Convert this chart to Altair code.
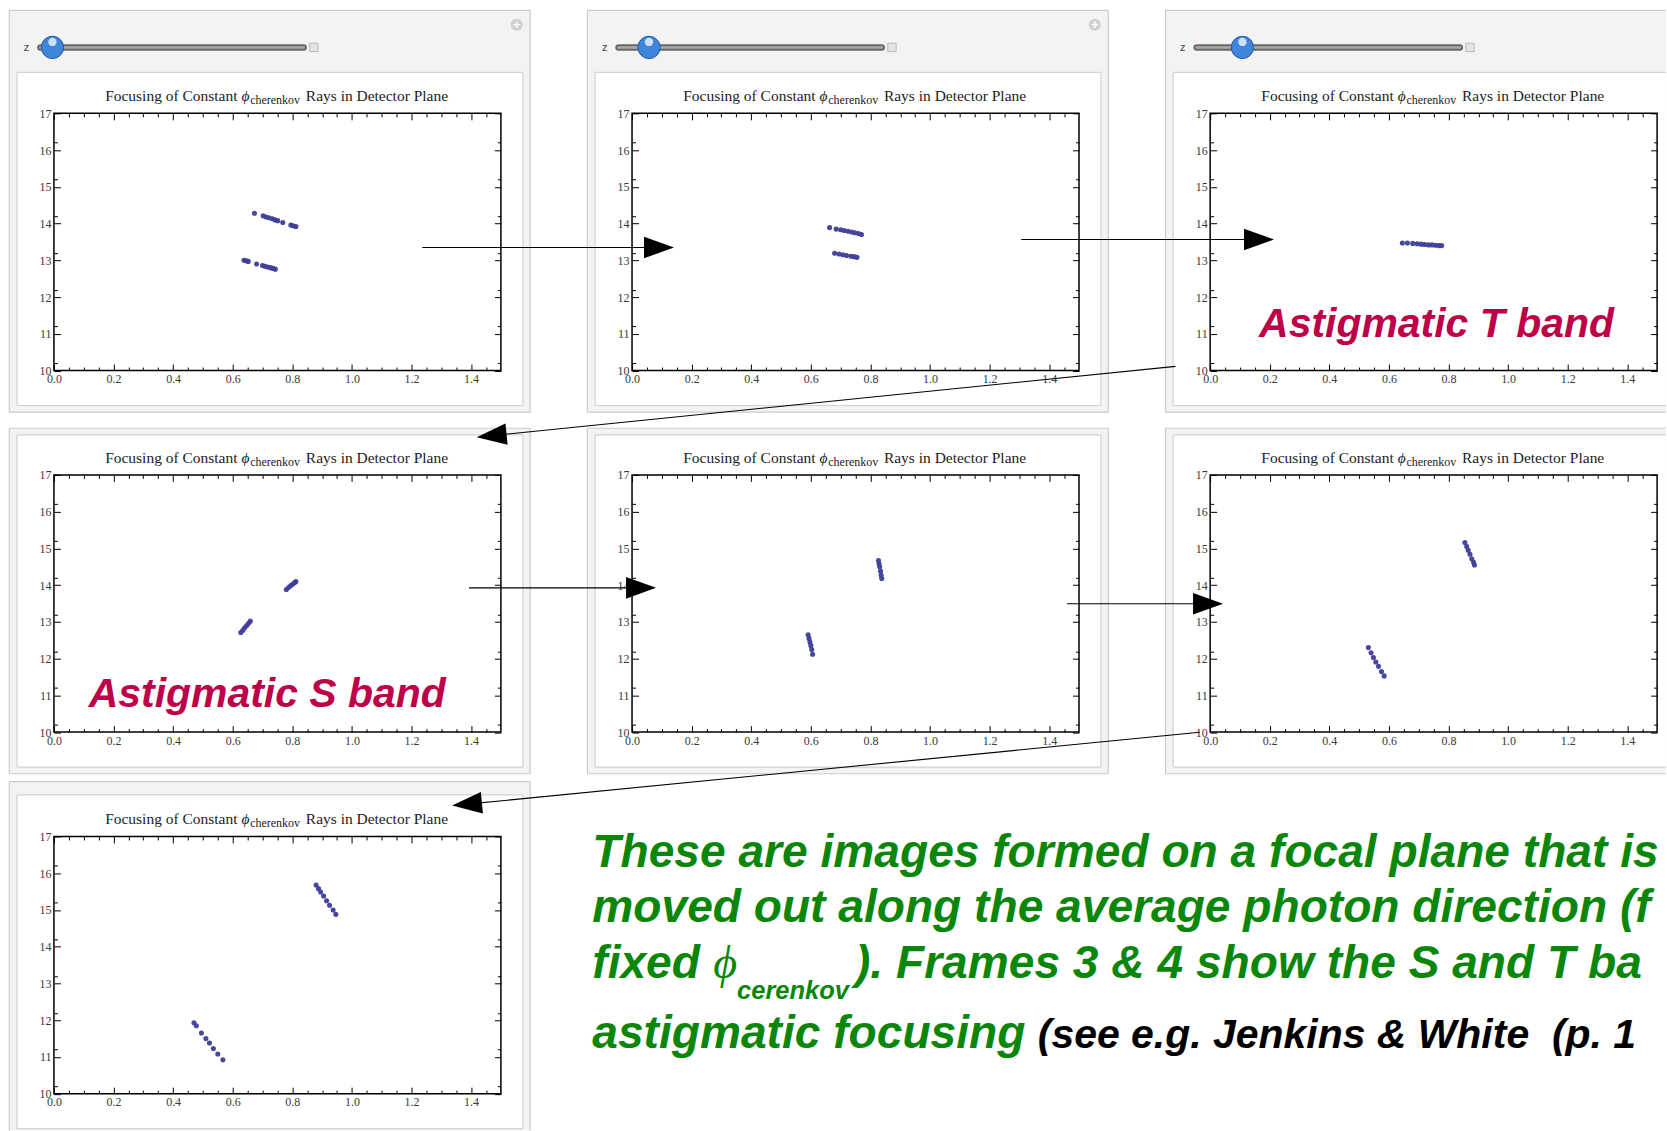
import math
import altair as alt
import pandas as pd

# ---------------- data ----------------
frame1_x = [0.673, 0.702, 0.712, 0.722, 0.733, 0.742, 0.751, 0.768, 0.795, 0.803, 0.812,
            0.638, 0.645, 0.652, 0.680, 0.700, 0.708, 0.717, 0.727, 0.735, 0.743]
frame1_y = [14.28, 14.21, 14.18, 14.16, 14.13, 14.10, 14.08, 14.03, 13.96, 13.94, 13.92,
            13.00, 12.99, 12.97, 12.90, 12.86, 12.84, 12.82, 12.80, 12.78, 12.76]
frame2_x = [0.663, 0.685, 0.700, 0.712, 0.725, 0.737, 0.748, 0.760, 0.770,
            0.680, 0.695, 0.708, 0.720, 0.735, 0.745, 0.755]
frame2_y = [13.89, 13.85, 13.83, 13.81, 13.79, 13.77, 13.75, 13.73, 13.70,
            13.19, 13.17, 13.15, 13.13, 13.11, 13.10, 13.08]
frame3_x = [0.645, 0.662, 0.680, 0.695, 0.708, 0.720, 0.733, 0.745, 0.757, 0.768, 0.777]
frame3_y = [13.47, 13.47, 13.46, 13.45, 13.44, 13.43, 13.42, 13.42, 13.41, 13.40, 13.40]
frame4_x = [0.627, 0.634, 0.640, 0.647, 0.653, 0.659, 0.780, 0.788, 0.795, 0.802, 0.808, 0.812]
frame4_y = [12.71, 12.77, 12.84, 12.90, 12.96, 13.02, 13.88, 13.94, 13.99, 14.03, 14.07, 14.10]
frame5_x = [0.591, 0.594, 0.597, 0.600, 0.603, 0.606, 0.827, 0.829, 0.831, 0.834, 0.836, 0.838]
frame5_y = [12.65, 12.55, 12.45, 12.36, 12.25, 12.12, 14.67, 14.58, 14.50, 14.38, 14.27, 14.18]
frame6_x = [0.855, 0.861, 0.866, 0.872, 0.878, 0.884, 0.887,
            0.531, 0.540, 0.548, 0.556, 0.565, 0.575, 0.584]
frame6_y = [15.16, 15.05, 14.95, 14.84, 14.72, 14.62, 14.55,
            12.30, 12.16, 12.03, 11.91, 11.79, 11.65, 11.53]
frame7_x = [0.880, 0.888, 0.895, 0.905, 0.915, 0.925, 0.937, 0.946,
            0.470, 0.478, 0.495, 0.510, 0.522, 0.535, 0.550, 0.567]
frame7_y = [15.68, 15.58, 15.49, 15.38, 15.25, 15.13, 15.00, 14.88,
            11.93, 11.85, 11.65, 11.50, 11.38, 11.23, 11.08, 10.92]

frames_x = [frame1_x, frame2_x, frame3_x, frame4_x, frame5_x, frame6_x, frame7_x]
frames_y = [frame1_y, frame2_y, frame3_y, frame4_y, frame5_y, frame6_y, frame7_y]

panel_title = ["Focusing of Constant", "\u03d5", "cherenkov", "Rays in Detector Plane"]
x_major_ticks = [0.0, 0.2, 0.4, 0.6, 0.8, 1.0, 1.2, 1.4]
x_minor_ticks = [0.05, 0.1, 0.15, 0.25, 0.3, 0.35, 0.45, 0.5, 0.55, 0.65, 0.7, 0.75,
                 0.85, 0.9, 0.95, 1.05, 1.1, 1.15, 1.25, 1.3, 1.35, 1.45]
y_major_ticks = [10, 11, 12, 13, 14, 15, 16, 17]
y_minor_ticks = [10.2, 10.4, 10.6, 10.8, 11.2, 11.4, 11.6, 11.8, 12.2, 12.4, 12.6, 12.8,
                 13.2, 13.4, 13.6, 13.8, 14.2, 14.4, 14.6, 14.8, 15.2, 15.4, 15.6, 15.8,
                 16.2, 16.4, 16.6, 16.8]
band_text = ["Astigmatic T band", "Astigmatic S band"]
caption_lines = ["These are images formed on a focal plane that is",
                 "moved out along the average photon direction (for"]
caption_fixed = ["fixed", "\u03d5", "cerenkov", "). Frames 3 & 4 show the S and T bands"]
caption_last = ["astigmatic focusing",
                "(see e.g. Jenkins & White\u00a0\u00a0(p. 112))"]

# ---------------- layout (pixels) ----------------
W, H = 447.5, 257.5
SX, SY = 130.8, 104.0
PAGE_W, PAGE_H = 1666.0, 1130.0
L0, T0 = 53.2, 112.5
GRID = [(0, 0), (0, 1), (0, 2), (1, 0), (1, 1), (1, 2), (2, 0)]
OUTER_TOP = {0: -103.1, 1: -46.7, 2: -55.0}
INNER_TOP = {0: -41.0, 1: -40.0, 2: -41.7}
KNOB = [-1.5, 17.0, 32.3]
GREEN = "#0a870a"
CRIMSON = "#bd0048"
SANS = "Liberation Sans"
SERIF = "Liberation Serif"

XS = alt.Scale(domain=[0.0, 1.5], nice=False, zero=False)
YS = alt.Scale(domain=[10.0, 17.0], nice=False, zero=False)


def origin(p):
    r, c = GRID[p]
    return L0 + c * (W + SX), T0 + r * (H + SY)


def rx(px):
    return px / W * 1.5


def ry(py):
    return 17.0 - py / H * 7.0


def X(f="x", axis=None):
    return alt.X(f, type="quantitative", scale=XS, axis=axis)


def Y(f="y", axis=None):
    return alt.Y(f, type="quantitative", scale=YS, axis=axis)


def text_layer(xs, ys, texts, **mk):
    df = pd.DataFrame({"x": xs, "y": ys, "t": texts})
    return alt.Chart(df).mark_text(baseline="alphabetic", **mk).encode(
        x=X(), y=Y(), text="t:N")


def carrier(xo, yo, major, labels):
    size = 6.5 if major else 3.5
    common = dict(tickSize=size, offset=-size, domain=False, grid=False, title=None,
                  tickColor="black", tickWidth=1, zindex=1, labels=labels,
                  labelFont=SERIF, labelFontSize=12, labelColor="#3a3a3a",
                  labelOverlap=False, labelFlush=False)
    xa = alt.Axis(orient=xo, values=x_major_ticks if major else x_minor_ticks,
                  format=".1f", labelPadding=3, **common)
    ya = alt.Axis(orient=yo, values=y_major_ticks if major else y_minor_ticks,
                  format="d", labelPadding=3, **common)
    df = pd.DataFrame({"x": [0.0], "y": [10.0]})
    return alt.Chart(df).mark_point(opacity=0).encode(x=X(axis=xa), y=Y(axis=ya))


def segs_layer(segs, width=1.0):
    df = pd.DataFrame(segs, columns=["x", "y", "x2", "y2", "col"])
    return alt.Chart(df).mark_rule(strokeWidth=width).encode(
        x=X(), y=Y(), x2=alt.X2("x2"), y2=alt.Y2("y2"),
        color=alt.Color("col:N", scale=None))


def build_panel(p):
    r, c = GRID[p]
    L, T = origin(p)
    layers = []

    # Manipulate-style boxes
    ox1, ox2 = -44.7, 476.8
    ix1, ix2 = -37.0, 469.5
    oy1, iy1 = OUTER_TOP[r], INNER_TOP[r]
    oy2, iy2 = H + 41.7, H + 35.0
    open_right = L + ox2 > PAGE_W
    open_bottom = T + oy2 > PAGE_H
    if open_right:
        ox2 = PAGE_W - L
        ix2 = PAGE_W - L
    if open_bottom:
        oy2 = PAGE_H - T
        iy2 = min(iy2, PAGE_H - T - 1)
    fills = pd.DataFrame({"x": [rx(ox1), rx(ix1)], "x2": [rx(ox2), rx(ix2)],
                          "y": [ry(oy1), ry(iy1)], "y2": [ry(oy2), ry(iy2)],
                          "f": ["#f3f3f3", "#ffffff"]})
    layers.append(alt.Chart(fills).mark_rect().encode(
        x=X(), x2=alt.X2("x2"), y=Y(), y2=alt.Y2("y2"),
        color=alt.Color("f:N", scale=None)))
    segs = []

    def edges(x1, x2, y1, y2, col, right, bottom):
        segs.append((rx(x1), ry(y1), rx(x2), ry(y1), col))
        segs.append((rx(x1), ry(y1), rx(x1), ry(y2), col))
        if bottom:
            segs.append((rx(x1), ry(y2), rx(x2), ry(y2), col))
        if right:
            segs.append((rx(x2), ry(y1), rx(x2), ry(y2), col))

    edges(ox1, ox2, oy1, oy2, "#cbcbcb", not open_right, not open_bottom)
    edges(ix1, ix2, iy1, iy2, "#d2d2d2", not open_right, True)
    layers.append(segs_layer(segs, 1.2))

    # slider (top row only)
    if r == 0:
        sy = ry(-66)
        track = pd.DataFrame({"x": [rx(-13.5)], "x2": [rx(250.0)], "y": [sy], "y2": [sy]})
        for wdt, col in [(6.5, "#6a6a6a"), (2.5, "#a9a9a9")]:
            layers.append(alt.Chart(track).mark_rule(strokeWidth=wdt, strokeCap="round",
                                                     color=col).encode(
                x=X(), x2=alt.X2("x2"), y=Y(), y2=alt.Y2("y2")))
        knob = pd.DataFrame({"x": [rx(KNOB[c])], "y": [sy]})
        layers.append(alt.Chart(knob).mark_circle(size=500, color="#3d86dc", stroke="#2657a0",
                                                  strokeWidth=1, opacity=1).encode(x=X(), y=Y()))
        hl = pd.DataFrame({"x": [rx(KNOB[c])], "y": [ry(-71.5)]})
        layers.append(alt.Chart(hl).mark_circle(size=70, color="#dcebfc", opacity=0.9).encode(
            x=X(), y=Y()))
        layers.append(text_layer([rx(-27.4)], [ry(-62)], ["z"], font=SANS, fontSize=11,
                                 color="#444444", align="center"))
        sq = pd.DataFrame({"x": [rx(260.2)], "y": [sy]})
        layers.append(alt.Chart(sq).mark_square(size=70, color="#e4e4e4", stroke="#b9b9b9",
                                                strokeWidth=1, opacity=1).encode(x=X(), y=Y()))
        if L + 470 < PAGE_W:
            ci = pd.DataFrame({"x": [rx(463.3)], "y": [ry(-88.7)]})
            layers.append(alt.Chart(ci).mark_circle(size=150, color="#d0d0d0", opacity=1).encode(
                x=X(), y=Y()))
            layers.append(text_layer([rx(463.3)], [ry(-84.7)], ["+"], font=SANS, fontSize=13,
                                     fontWeight="bold", color="white", align="center"))

    # plot frame
    frame = pd.DataFrame({"x": [0.0], "x2": [1.5], "y": [10.0], "y2": [17.0]})
    layers.append(alt.Chart(frame).mark_rect(fill="white", stroke="black", strokeWidth=1.5).encode(
        x=X(), x2=alt.X2("x2"), y=Y(), y2=alt.Y2("y2")))

    # ray hit points
    pts = pd.DataFrame({"x": frames_x[p], "y": frames_y[p]})
    layers.append(alt.Chart(pts).mark_circle(size=26, color="#3d3d99", opacity=0.95).encode(
        x=X(), y=Y()))

    # title with subscript
    layers.append(text_layer([rx(187.8)], [ry(-12)], [panel_title[0]], font=SERIF,
                             fontSize=15.5, color="#222222", align="right", dx=-4))
    layers.append(text_layer([rx(187.8)], [ry(-12)], [panel_title[1]], font=SERIF,
                             fontSize=15.5, fontStyle="italic", color="#222222", align="left"))
    layers.append(text_layer([rx(196.5)], [ry(-9)], [panel_title[2]], font=SERIF,
                             fontSize=12, color="#222222", align="left"))
    layers.append(text_layer([rx(252.2)], [ry(-12)], [panel_title[3]], font=SERIF,
                             fontSize=15.5, color="#222222", align="left"))

    if p == 2:
        layers.append(text_layer([rx(49.0)], [ry(224.0)], [band_text[0]], font=SANS,
                                 fontSize=41, fontWeight="bold", fontStyle="italic",
                                 color=CRIMSON, align="left"))
    if p == 3:
        layers.append(text_layer([rx(34.8)], [ry(232.7)], [band_text[1]], font=SANS,
                                 fontSize=41, fontWeight="bold", fontStyle="italic",
                                 color=CRIMSON, align="left"))

    if p == 6:
        # arrows between frames (drawn on the last panel so they sit on top)
        arrows = [
            (0, (368.8, 133.3), 1, (42.5, 133.3)),
            (1, (390.1, 125.3), 2, (64.9, 125.3)),
            (2, (-33.7, 252.3), 3, (423.3, -38.3)),
            (3, (415.6, 112.6), 4, (24.5, 112.6)),
            (4, (435.9, 128.5), 5, (13.9, 128.5)),
            (5, (-9.5, 257.2), 6, (398.6, -30.9)),
        ]
        rows, heads = [], []
        for sp, srel, tp, trel in arrows:
            sL, sT = origin(sp)
            tL, tT = origin(tp)
            sx, sy_ = sL + srel[0], sT + srel[1]
            tx, ty = tL + trel[0], tT + trel[1]
            dxp, dyp = tx - sx, ty - sy_
            n = math.hypot(dxp, dyp)
            ux, uy = dxp / n, dyp / n
            cx, cy = tx - 15 * ux, ty - 15 * uy
            rows.append((rx(sx - L), ry(sy_ - T), rx(cx - L), ry(cy - T), "black"))
            heads.append((rx(cx - L), ry(cy - T), math.degrees(math.atan2(dyp, dxp)) % 360))
        layers.append(segs_layer(rows, 1.1))
        hd = pd.DataFrame(heads, columns=["x", "y", "ang"])
        layers.append(alt.Chart(hd).mark_point(shape="M1,0L-1,-0.72L-1,0.72Z", size=900,
                                               filled=True, color="black", opacity=1).encode(
            x=X(), y=Y(), angle=alt.Angle("ang:Q", scale=None)))

        # caption
        gk = dict(font=SANS, fontWeight="bold", fontStyle="italic", align="left",
                  ellipsis=" ")

        def lim(relx):
            return PAGE_W - (L + relx)

        GS = 46.2
        X0 = 539.0
        layers.append(text_layer([rx(X0)], [ry(30.3)], [caption_lines[0]], fontSize=GS,
                                 color=GREEN, limit=lim(X0), **gk))
        layers.append(text_layer([rx(X0)], [ry(85.3)], [caption_lines[1]], fontSize=GS,
                                 color=GREEN, limit=lim(X0), **gk))
        layers.append(text_layer([rx(X0)], [ry(141.8)], [caption_fixed[0]], fontSize=GS,
                                 color=GREEN, limit=lim(X0), **gk))
        layers.append(text_layer([rx(660.0)], [ry(141.8)], [caption_fixed[1]], font=SERIF,
                                 fontStyle="italic", fontSize=GS, color=GREEN, align="left"))
        layers.append(text_layer([rx(684.0)], [ry(162.8)], [caption_fixed[2]], fontSize=25.5,
                                 color=GREEN, limit=lim(684.0), **gk))
        layers.append(text_layer([rx(802.0)], [ry(141.8)], [caption_fixed[3]], fontSize=GS,
                                 color=GREEN, limit=lim(802.0), **gk))
        layers.append(text_layer([rx(X0)], [ry(211.3)], [caption_last[0]], fontSize=GS,
                                 color=GREEN, limit=lim(X0), **gk))
        layers.append(text_layer([rx(985.0)], [ry(211.3)], [caption_last[1]], fontSize=41,
                                 color="black", limit=lim(985.0), **gk))

    # axes: inward major/minor ticks on all four sides (labels only bottom/left)
    layers.append(carrier("bottom", "left", True, True))
    layers.append(carrier("bottom", "left", False, False))
    layers.append(carrier("top", "right", True, False))
    layers.append(carrier("top", "right", False, False))

    return alt.layer(*layers).properties(width=W, height=H).resolve_axis(
        x="independent", y="independent")


panels = [build_panel(p) for p in range(7)]
chart = alt.concat(*panels, columns=3, spacing={"row": SY, "column": SX}).properties(
    bounds="flush",
    padding={"left": 8.0, "top": T0 - 103.1 - 0.6, "right": 0, "bottom": 0},
    background="white",
).configure_view(strokeWidth=0)

chart.save("out.html", embed_options={"renderer": "svg", "actions": False})
